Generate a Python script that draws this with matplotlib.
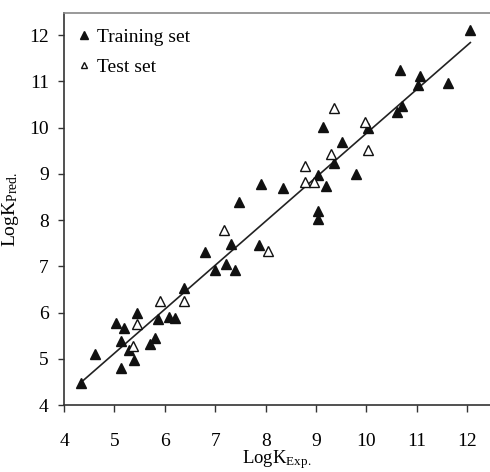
import matplotlib
matplotlib.use("Agg")
import matplotlib.pyplot as plt

# training set (filled triangles)
train_exp = [4.33, 4.62, 5.14, 5.04, 5.19, 5.14, 5.29, 5.38, 5.44, 5.71,
             5.81, 5.86, 6.08, 6.21, 6.38, 6.80, 7.00, 7.22, 7.40, 7.32,
             7.47, 7.87, 7.90, 8.34, 9.04, 9.04, 9.04, 9.19, 9.36, 9.51,
             9.79, 9.14, 10.03, 10.60, 10.71, 10.67, 11.02, 11.07, 11.62, 12.06]
train_pred = [4.48, 5.10, 4.81, 5.78, 5.67, 5.39, 5.19, 4.97, 6.00, 5.32,
              5.46, 5.86, 5.91, 5.89, 6.54, 7.30, 6.92, 7.05, 6.92, 7.48,
              8.39, 7.46, 8.79, 8.70, 8.20, 8.02, 8.98, 8.74, 9.24, 9.68,
              9.00, 10.01, 10.00, 10.33, 10.47, 11.25, 10.93, 11.12, 10.96, 12.12]

# test set (open triangles)
test_exp = [5.36, 5.44, 5.91, 6.38, 7.17, 8.05, 8.79, 8.79, 8.96, 9.29, 10.03, 9.97, 9.36]
test_pred = [5.28, 5.75, 6.24, 6.25, 7.79, 7.33, 9.16, 8.83, 8.83, 9.43, 9.52, 10.13, 10.42]

# regression line end points
fit_x = [4.37, 12.06]
fit_y = [4.52, 11.84]

plt.rcParams['font.family'] = ['Liberation Serif', 'DejaVu Serif']
plt.rcParams['mathtext.fontset'] = 'custom'
plt.rcParams['mathtext.rm'] = 'Liberation Serif'
plt.rcParams['mathtext.it'] = 'Liberation Serif:italic'

fig = plt.figure(figsize=(4.9, 4.72), dpi=100)
ax = fig.add_axes([64 / 490, 1 - 405 / 472, 1 - 64 / 490, (405 - 13) / 472])

ax.plot(fit_x, fit_y, color='#222222', lw=1.2, zorder=1)
ax.plot(train_exp, train_pred, '^', color='#111111', ms=7, ls='none',
        label='Training set', zorder=3)
ax.plot(test_exp, test_pred, '^', mfc='white', mec='#111111', mew=1.0, ms=6.5,
        ls='none', label='Test set', zorder=3)

ax.set_xlim(4, 12.45)
ax.set_ylim(4, 12.48)
ax.set_xticks(range(4, 13))
ax.set_yticks(range(4, 13))

ax.spines['right'].set_visible(False)
ax.spines['top'].set_color('#888888')
ax.spines['top'].set_linewidth(1.2)
for s in ('left', 'bottom'):
    ax.spines[s].set_color('#333333')
    ax.spines[s].set_linewidth(1.2)

ax.tick_params(axis='x', direction='out', length=5, width=1, pad=15,
               labelsize=14, color='#333333')
ax.tick_params(axis='y', direction='out', length=4, width=1, pad=7,
               labelsize=14, color='#333333')

ax.set_xlabel(r'LogK$_{\mathrm{Exp.}}$', fontsize=13.5, labelpad=-1)
ax.set_ylabel(r'LogK$_{\mathrm{Pred.}}$', fontsize=14, labelpad=6)

ax.legend(loc='upper left', bbox_to_anchor=(0.028, 0.96), frameon=False,
          fontsize=14, markerscale=0.75, handletextpad=0.3, handlelength=0.8,
          borderaxespad=0, borderpad=0, labelspacing=0.6)

fig.savefig('out.png', dpi=100)
